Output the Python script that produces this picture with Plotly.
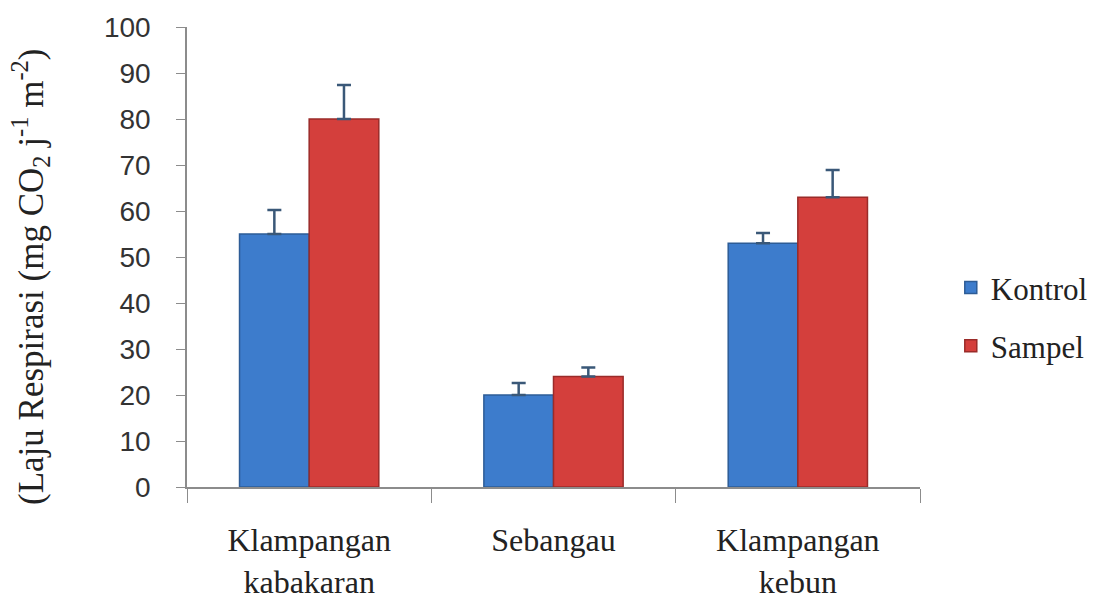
import plotly.graph_objects as go

categories = ["Klampangan<br>kabakaran", "Sebangau", "Klampangan<br>kebun"]
kontrol = [55, 20, 53]
kontrol_err = [5.2, 2.6, 2.2]
sampel = [80, 24, 63]
sampel_err = [7.4, 2.0, 5.9]
y_ticks = [0, 10, 20, 30, 40, 50, 60, 70, 80, 90, 100]

# page body has an 8px margin; figure coordinates are offset by it
OFF = 8
W, H = 1097 - OFF, 596 - OFF
L, T = 187 - OFF, 27 - OFF
PW, PH = 733, 460
R, B = W - L - PW, H - T - PH

fig = go.Figure()
fig.add_trace(go.Bar(
    name="Kontrol", x=categories, y=kontrol, legendgroup="k",
    marker=dict(color="#3d7ccc", line=dict(color="#2d5c96", width=1.5)),
    error_y=dict(type="data", array=kontrol_err, symmetric=False,
                 arrayminus=[0]*len(kontrol_err), color="#3a5878", thickness=2.5, width=7),
))
fig.add_trace(go.Bar(
    name="Sampel", x=categories, y=sampel, legendgroup="s",
    marker=dict(color="#d43f3c", line=dict(color="#9a2b29", width=1.5)),
    error_y=dict(type="data", array=sampel_err, symmetric=False,
                 arrayminus=[0]*len(sampel_err), color="#3a5878", thickness=2.5, width=7),
))

fig.add_annotation(
    text="(Laju Respirasi (mg CO<sub>2</sub> j<sup>-1</sup> m<sup>-2</sup>)",
    xref="paper", yref="paper", x=(30 - 187) / PW, y=(487 - 277) / PH,
    xanchor="center", yanchor="middle", textangle=-90, showarrow=False,
    font=dict(family="Liberation Serif", size=35, color="#222222"),
)

fig.update_layout(
    width=W, height=H,
    margin=dict(l=L, r=R, t=T, b=B, autoexpand=False),
    paper_bgcolor="white", plot_bgcolor="white",
    barmode="group", bargap=0.43, bargroupgap=0.0,
    showlegend=True,
    legend=dict(x=1.042, y=0.37, xanchor="left", yanchor="middle",
                font=dict(family="Liberation Serif", size=31, color="#222222"),
                tracegroupgap=15, itemwidth=30, borderwidth=0, bgcolor="rgba(0,0,0,0)"),
    xaxis=dict(
        automargin=False,
        showline=True, linecolor="#8c8c8c", linewidth=1.5,
        ticks="outside", tickson="boundaries", ticklen=14, tickcolor="#8c8c8c",
        tickfont=dict(family="Liberation Serif", size=32, color="#222222"),
        ticklabelstandoff=24, showgrid=False,
    ),
    yaxis=dict(
        automargin=False,
        range=[0, 100], tickvals=y_ticks,
        showline=True, linecolor="#8c8c8c", linewidth=1.5,
        ticks="outside", ticklen=9, tickcolor="#8c8c8c",
        tickfont=dict(family="Liberation Sans", size=28, color="#333333"),
        ticklabelstandoff=20, showgrid=False, zeroline=False,
    ),
)

fig.write_html("out.html")
